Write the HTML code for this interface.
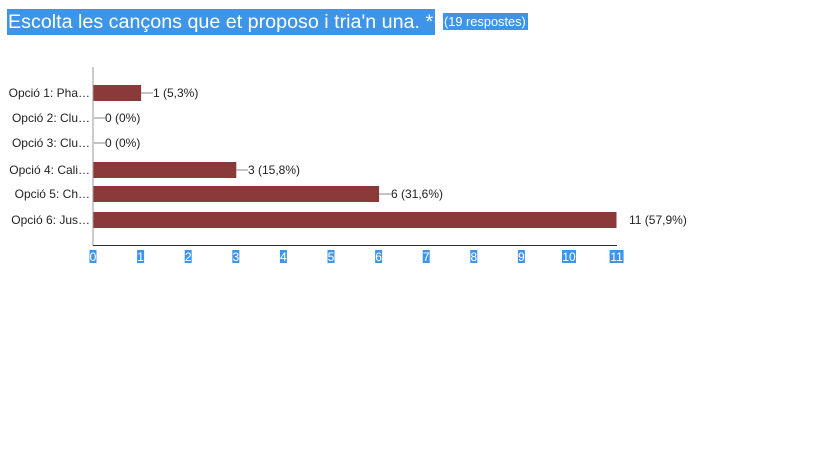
<!DOCTYPE html>
<html><head><meta charset="utf-8"><style>
body{margin:0;background:#fff;width:819px;height:460px;overflow:hidden;font-family:"Liberation Sans",Arial,sans-serif}
.t{position:absolute;left:7px;top:9px;height:26px;line-height:26px;background:#3e95e8;color:#fff;font-size:19.7px;padding:0 2px 0 1px;white-space:nowrap}
.s{position:absolute;left:443px;top:13px;height:17px;line-height:17px;background:#3e95e8;color:#fff;font-size:12.8px;padding:0 2px 0 1px;white-space:nowrap}
</style></head><body>
<div class="t">Escolta les cançons que et proposo i tria'n una. *</div>
<div class="s">(19 respostes)</div>
<svg width="819" height="460" style="position:absolute;left:0;top:0" font-family="Liberation Sans,Arial,sans-serif" font-size="12">
<line x1="93" y1="67" x2="93" y2="246" stroke="#999" stroke-width="1"/>
<line x1="93" y1="245.5" x2="617" y2="245.5" stroke="#333" stroke-width="1"/>
<g fill="#8b3a3a">
<rect x="93.5" y="85" width="47.6" height="16"/>
<rect x="93.5" y="162" width="142.8" height="16"/>
<rect x="93.5" y="186" width="285.6" height="16"/>
<rect x="93.5" y="212" width="523" height="16"/>
</g>
<g stroke="#888" stroke-width="1">
<line x1="141" y1="93" x2="153" y2="93"/>
<line x1="94" y1="118" x2="105" y2="118"/>
<line x1="94" y1="143" x2="105" y2="143"/>
<line x1="236" y1="170" x2="248" y2="170"/>
<line x1="379" y1="194" x2="391" y2="194"/>
</g>
<g fill="#222">
<text x="153" y="97">1 (5,3%)</text>
<text x="105" y="122">0 (0%)</text>
<text x="105" y="147">0 (0%)</text>
<text x="248" y="174">3 (15,8%)</text>
<text x="391" y="198">6 (31,6%)</text>
<text x="629" y="224">11 (57,9%)</text>
</g>
<g fill="#222" text-anchor="end">
<text x="90" y="97">Opció 1: Pha…</text>
<text x="90" y="122">Opció 2: Clu…</text>
<text x="90" y="147">Opció 3: Clu…</text>
<text x="90" y="174">Opció 4: Cali…</text>
<text x="90" y="198">Opció 5: Ch…</text>
<text x="90" y="224">Opció 6: Jus…</text>
</g>
<g id="ticks"></g>
</svg>
<script>
var g=document.getElementById('ticks'),ns='http://www.w3.org/2000/svg';
for(var i=0;i<=11;i++){var x=93+47.6*i,w=i>=10?14:7;
var r=document.createElementNS(ns,'rect');r.setAttribute('x',x-w/2);r.setAttribute('y',250);r.setAttribute('width',w);r.setAttribute('height',13);r.setAttribute('fill','#3e95e8');g.appendChild(r);
var t=document.createElementNS(ns,'text');t.setAttribute('x',x);t.setAttribute('y',261);t.setAttribute('fill','#fff');t.setAttribute('text-anchor','middle');t.textContent=i;g.appendChild(t);}
</script>
</body></html>
